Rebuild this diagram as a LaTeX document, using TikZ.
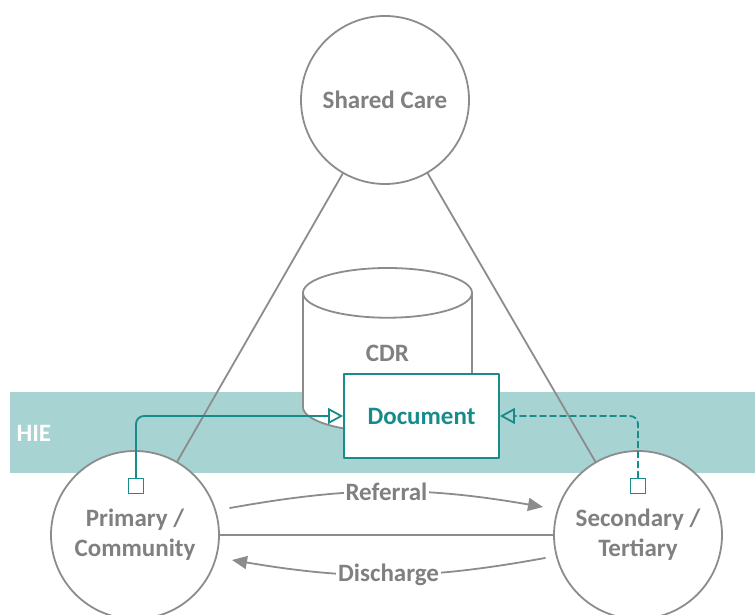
\documentclass[tikz,border=0pt]{standalone}
\usepackage{fontspec}
\setmainfont{Carlito}
\usetikzlibrary{arrows.meta}
\usetikzlibrary{shapes.geometric}
\definecolor{hiegreen}{RGB}{167,211,211}
\definecolor{docteal}{RGB}{24,140,138}
\definecolor{linegray}{RGB}{140,140,140}
\definecolor{textgray}{RGB}{128,128,128}

\begin{document}
\begin{tikzpicture}[line cap=round,line join=round,x=1pt,y=1pt,
  bigfont/.style={font=\fontsize{25}{30}\selectfont\bfseries},
  party/.style={circle,draw=linegray,line width=1.8pt,fill=white,minimum size=168pt,
    align=center,text=textgray,bigfont},
  store/.style={cylinder,shape border rotate=90,draw=linegray,line width=1.8pt,fill=white,
    minimum height=164pt,minimum width=169pt,aspect=1,bigfont},
  docbox/.style={rectangle,draw=docteal,line width=1.8pt,fill=white,
    minimum width=155pt,minimum height=84pt,text=docteal,bigfont},
  port/.style={rectangle,draw=docteal,line width=1.8pt,fill=white,minimum size=15pt,inner sep=0pt},
  link/.style={draw=linegray,line width=1.8pt},
  flow/.style={draw=linegray,line width=1.8pt,-{Triangle[length=15pt,width=13pt]}},
  feed/.style={draw=docteal,line width=1.8pt,rounded corners=8pt,
    -{Triangle[open,length=15pt,width=16pt]}},
  flowlabel/.style={fill=white,inner sep=2pt,text=textgray,bigfont}]
\useasboundingbox (0,0) rectangle (755,615);

% exchange band
\fill[hiegreen] (10,142) rectangle (755,223);
\node[anchor=west,text=white,bigfont] (hie) at (13,182) {HIE};

% repository
\node[store,anchor=shape center] (cdr) at (387.5,265) {\phantom{CDR}};
\node[text=textgray,bigfont] (cdrname) at ([yshift=-3pt]cdr.shape center) {CDR};

% care settings
\node[party] (shared) at (385,515) {Shared Care};
\node[party] (primary) at (135,80) {Primary /\\Community};
\node[party] (secondary) at (638,80) {Secondary /\\Tertiary};

\draw[link] (shared) -- (primary);
\draw[link] (shared) -- (secondary);
\draw[link] (primary) -- (secondary);

\node[docbox] (doc) at (421.5,199) {Document};

% publishing
\node[port] (portA) at (136,129) {};
\node[port] (portB) at (638,129) {};
\draw[feed] (portA.north) |- (doc.west);
\draw[feed,dash pattern=on 6pt off 4pt] (portB.north) |- (doc.east);

% patient flow
\coordinate (refS) at (230,107);
\coordinate (refE) at (543,108);
\coordinate (disS) at (545,57);
\coordinate (disE) at (232,55);
\draw[flow] (refS) to[bend left=10] node[flowlabel] {Referral} (refE);
\draw[flow] (disS) to[bend left=10] node[flowlabel] {Discharge} (disE);
\end{tikzpicture}
\end{document}
